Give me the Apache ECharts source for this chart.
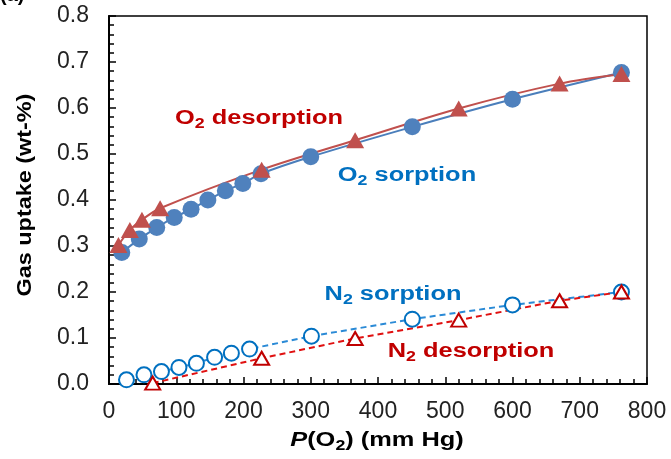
<!DOCTYPE html>
<html>
<head>
<meta charset="utf-8">
<script src="https://cdn.jsdelivr.net/npm/echarts@6/dist/echarts.min.js"></script>
<style>
  html, body { margin: 0; padding: 0; background: #fff; }
  #main { width: 671px; height: 459px; }
</style>
</head>
<body>
<div id="main"></div>
<script>
// O2 sorption (filled circles)
var pO2Sorp = [19, 45, 71, 97, 122, 147, 173, 199, 226, 300, 451, 600, 762];
var wO2Sorp = [0.286, 0.315, 0.340, 0.362, 0.380, 0.400, 0.420, 0.436, 0.457, 0.494, 0.559, 0.619, 0.677];
// O2 desorption (filled triangles)
var pO2Desorp = [14, 31, 49, 76, 227, 366, 520, 670, 762];
var wO2Desorp = [0.302, 0.335, 0.357, 0.382, 0.466, 0.530, 0.599, 0.653, 0.674];
// N2 sorption (open circles)
var pN2Sorp = [26, 52, 78, 104, 130, 157, 182, 209, 301, 451, 600, 762];
var wN2Sorp = [0.009, 0.020, 0.027, 0.036, 0.045, 0.058, 0.067, 0.076, 0.104, 0.141, 0.172, 0.200];
// N2 desorption (open triangles)
var pN2Desorp = [65, 227, 366, 520, 670, 762];
var wN2Desorp = [0.002, 0.056, 0.099, 0.139, 0.181, 0.200];

var xTicks = [0, 800, 100];
var yTicks = [0, 0.8, 0.1];

function pairs(xs, ys) {
    return xs.map(function (x, i) { return [x, ys[i]]; });
}

var font = 'Liberation Sans, Arial, sans-serif';

// text with a subscript part, e.g. O{s|2}
function subText(x, y, text, color, sx) {
    return {
        type: 'text', x: x, y: y, scaleX: sx,
        style: {
            text: text, align: 'center', verticalAlign: 'middle',
            rich: {
                i: { font: 'italic bold 20px ' + font, fill: color, lineHeight: 24 },
                n: { font: 'bold 20px ' + font, fill: color, lineHeight: 24 },
                s: { font: 'bold 14px ' + font, fill: color, lineHeight: 12, padding: [13, 0, 0, 0] }
            }
        }
    };
}

var myChart = echarts.init(document.getElementById('main'));

var option = {
    backgroundColor: '#fff',
    animation: false,
    grid: {
        left: 109, top: 16, right: 24, bottom: 75,
        show: true, borderColor: '#000', borderWidth: 1.5
    },
    xAxis: {
        type: 'value',
        min: xTicks[0], max: xTicks[1], interval: xTicks[2],
        axisLine: { lineStyle: { color: '#000', width: 2 } },
        axisTick: { inside: true, length: 7, lineStyle: { color: '#000', width: 1.5 } },
        minorTick: { show: true, splitNumber: 5, length: 5, lineStyle: { color: '#000', width: 1.5 } },
        splitLine: { show: false },
        axisLabel: { color: '#222', fontSize: 23, fontFamily: font, margin: 16 }
    },
    yAxis: {
        type: 'value',
        min: yTicks[0], max: yTicks[1], interval: yTicks[2],
        axisLine: { show: true, lineStyle: { color: '#000', width: 2 } },
        axisTick: { show: true, inside: true, length: 7, lineStyle: { color: '#000', width: 1.5 } },
        minorTick: { show: true, splitNumber: 5, length: 5, lineStyle: { color: '#000', width: 1.5 } },
        splitLine: { show: false },
        axisLabel: {
            color: '#222', fontSize: 23, fontFamily: font, margin: 20,
            formatter: function (v) { return v.toFixed(1); }
        }
    },
    series: [
        {
            name: 'O2 sorption', type: 'line', smooth: 0.3,
            data: pairs(pO2Sorp, wO2Sorp),
            symbol: 'circle', symbolSize: 17,
            lineStyle: { color: '#4A7EBB', width: 2 },
            itemStyle: { color: '#4F81BD' }
        },
        {
            name: 'O2 desorption', type: 'line', smooth: 0.3,
            data: pairs(pO2Desorp, wO2Desorp),
            symbol: 'triangle', symbolSize: [18, 16],
            lineStyle: { color: '#C0504D', width: 2 },
            itemStyle: { color: '#C0504D' }
        },
        {
            name: 'N2 sorption', type: 'line',
            data: pairs(pN2Sorp, wN2Sorp),
            symbol: 'circle', symbolSize: 15,
            lineStyle: { color: '#2A8AD6', width: 2, type: [6, 4] },
            itemStyle: { color: '#fff', borderColor: '#0070C0', borderWidth: 2 }
        },
        {
            name: 'N2 desorption', type: 'line',
            data: pairs(pN2Desorp, wN2Desorp),
            symbol: 'triangle', symbolSize: [15, 13],
            lineStyle: { color: '#E01010', width: 2, type: [6, 4] },
            itemStyle: { color: '#fff', borderColor: '#C00000', borderWidth: 2 }
        }
    ],
    graphic: [
        {
            type: 'text', left: 0, top: -15,
            style: { text: '(a)', font: 'bold 20px ' + font, fill: '#000' }
        },
        {
            type: 'text', x: 25, y: 195, rotation: Math.PI / 2, scaleX: 1.17,
            style: {
                text: 'Gas uptake (wt-%)', font: 'bold 20px ' + font, fill: '#000',
                align: 'center', verticalAlign: 'middle'
            }
        },
        subText(377, 440, '{i|P}{n|(O}{s|2}{n|) (mm Hg)}', '#000', 1.27),
        subText(259, 118, '{n|O}{s|2}{n| desorption}', '#C00000', 1.27),
        subText(407, 175, '{n|O}{s|2}{n| sorption}', '#0070C0', 1.27),
        subText(393, 294, '{n|N}{s|2}{n| sorption}', '#0070C0', 1.27),
        subText(471, 351, '{n|N}{s|2}{n| desorption}', '#C00000', 1.27)
    ]
};
myChart.setOption(option);
</script>
</body>
</html>
